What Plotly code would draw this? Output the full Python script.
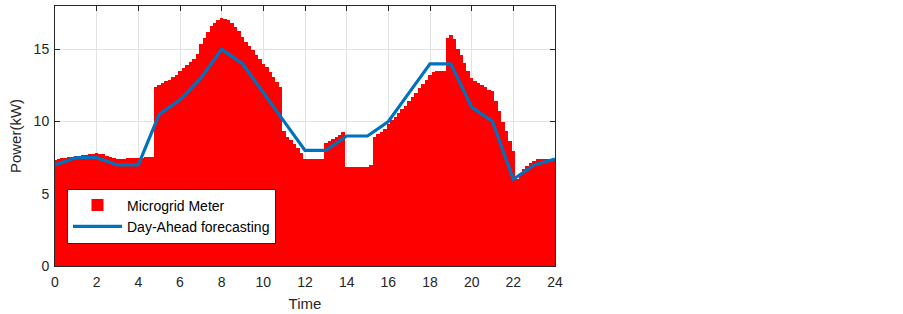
import plotly.graph_objects as go

# Microgrid meter readings, 10-minute resolution (hours 0 .. 24)
meter_kw = [
    7.35, 7.40, 7.45, 7.50, 7.55, 7.58,
    7.62, 7.65, 7.68, 7.70, 7.73, 7.76,
    7.80, 7.78, 7.72, 7.62, 7.52, 7.45,
    7.40, 7.40, 7.42, 7.45, 7.47, 7.48,
    7.50, 7.50, 7.52, 7.55, 7.58, 12.40,
    12.55, 12.65, 12.80, 12.90, 13.10, 13.25,
    13.50, 13.70, 13.90, 14.15, 14.30, 14.70,
    15.40, 15.80, 16.20, 16.60, 16.85, 17.05,
    17.15, 17.10, 17.00, 16.80, 16.55, 16.25,
    15.85, 15.50, 15.20, 14.95, 14.60, 14.30,
    14.00, 13.75, 13.45, 13.10, 12.75, 12.40,
    9.35, 8.95, 8.70, 8.45, 8.15, 7.85,
    7.38, 7.38, 7.38, 7.38, 7.38, 7.38,
    8.55, 8.68, 8.82, 8.96, 9.10, 9.25,
    6.85, 6.85, 6.85, 6.85, 6.85, 6.85,
    6.85, 7.00, 8.95, 9.15, 9.30, 9.50,
    9.85, 10.10, 10.35, 10.60, 10.85, 11.10,
    11.40, 11.70, 12.00, 12.30, 12.60, 12.90,
    13.20, 13.45, 13.50, 13.50, 13.50, 15.80,
    16.00, 15.75, 15.00, 14.60, 14.05, 13.50,
    13.00, 12.80, 12.67, 12.55, 12.40, 12.20,
    12.10, 11.40, 10.70, 10.00, 9.33, 8.64,
    7.95, 6.05, 6.34, 6.69, 6.92, 7.10,
    7.25, 7.38, 7.38, 7.40, 7.40, 7.40,
    7.40,
]
meter_time = [i / 6 for i in range(len(meter_kw))]

# Day-ahead forecast, hourly
forecast_time = list(range(25))
forecast_kw = [7, 7.5, 7.5, 7, 7, 10.5, 11.5, 13, 15, 14, 12, 10, 8, 8,
               9, 9, 10, 12, 14, 14, 11, 10, 6, 7, 7.4]

x_ticks = list(range(0, 25, 2))
y_ticks = [0, 5, 10, 15]

axis_col = "#262626"
font_fam = "Liberation Sans, Arial, Helvetica, sans-serif"

fig = go.Figure()
fig.add_trace(go.Bar(
    x=meter_time, y=meter_kw, width=1 / 6,
    marker=dict(color="#FF0000", line=dict(width=0)),
    name="Microgrid Meter",
))
fig.add_trace(go.Scatter(
    x=forecast_time, y=forecast_kw, mode="lines",
    line=dict(color="#0072BD", width=3.2),
    name="Day-Ahead forecasting",
))

fig.update_layout(
    width=903, height=314,
    margin=dict(l=55, r=348, t=5, b=47),
    paper_bgcolor="white", plot_bgcolor="white",
    bargap=0,
    font=dict(family=font_fam, size=13, color=axis_col),
    showlegend=True,
    legend=dict(
        x=0.024, y=0.298, xanchor="left", yanchor="top",
        bgcolor="white", bordercolor=axis_col, borderwidth=1,
        font=dict(size=14, color="#000000"),
        tracegroupgap=0, itemwidth=49,
    ),
)
fig.update_xaxes(
    range=[0, 24], tickvals=x_ticks, ticktext=[str(v) for v in x_ticks],
    showgrid=True, gridcolor="#e3e3e3", gridwidth=1,
    showline=True, linecolor=axis_col, linewidth=1, mirror="ticks",
    ticks="inside", ticklen=5, tickcolor=axis_col,
    zeroline=False, layer="below traces", ticklabelstandoff=3,
    title=dict(text="Time", font=dict(size=15, color=axis_col), standoff=9),
    tickfont=dict(size=14, color=axis_col),
)
fig.update_yaxes(
    range=[0, 18], tickvals=y_ticks, ticktext=[str(v) for v in y_ticks],
    showgrid=True, gridcolor="#e3e3e3", gridwidth=1,
    showline=True, linecolor=axis_col, linewidth=1, mirror="ticks",
    ticks="inside", ticklen=5, tickcolor=axis_col,
    zeroline=False, layer="below traces", ticklabelstandoff=2,
    title=dict(text="Power(kW)", font=dict(size=15, color=axis_col), standoff=8),
    tickfont=dict(size=14, color=axis_col),
)

fig.write_html(
    "out.html",
    config={"displayModeBar": False},
    post_script="document.body.style.margin='0px';",
)
